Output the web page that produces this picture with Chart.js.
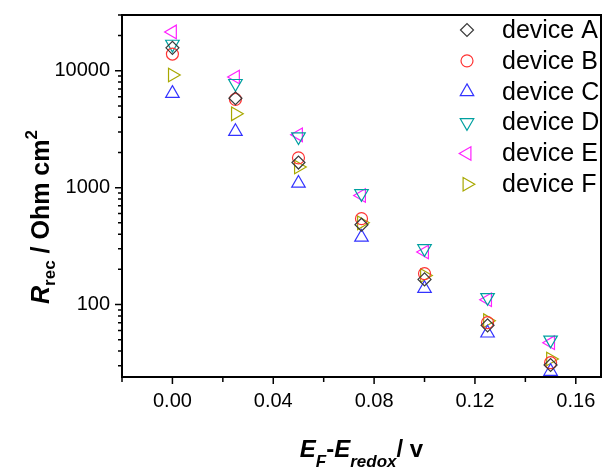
<!DOCTYPE html>
<html>
<head>
<meta charset="utf-8">
<script src="https://cdn.jsdelivr.net/npm/chart.js@4.4.1/dist/chart.umd.min.js"></script>
<style>
  body { margin: 0; background: #fff; }
  #wrap { width: 610px; height: 471px; }
</style>
</head>
<body>
<div id="wrap"><canvas id="myChart"></canvas></div>
<script>
// E_F - E_redox in V
var potentials = [0, 0.025, 0.05, 0.075, 0.1, 0.125, 0.15];
var deviceNames = ['device A', 'device B', 'device C', 'device D', 'device E', 'device F'];
// recombination resistance in Ohm cm2
var rDeviceA = [15700, 5820, 1640, 482, 164, 66.4, 30.4];
var rDeviceB = [13900, 5700, 1800, 543, 184, 70, 31.8];
var rDeviceC = [6400, 3020, 1090, 376, 137, 57, 26.8];
var rDeviceD = [16900, 7800, 2730, 890, 301, 115, 49.7];
var rDeviceE = [21500, 8840, 2830, 857, 282, 110, 47.2];
var rDeviceF = [9200, 4280, 1500, 500, 177, 72.8, 34.2];
var xTickValues = [-0.02, 0, 0.02, 0.04, 0.06, 0.08, 0.10, 0.12, 0.14, 0.16];
var xTickLabels = ['', '0.00', '', '0.04', '', '0.08', '', '0.12', '', '0.16'];
var yTickValues = [100, 1000, 10000];
var yTickLabels = ['100', '1000', '10000'];

var seriesValues = [rDeviceA, rDeviceB, rDeviceC, rDeviceD, rDeviceE, rDeviceF];
var markerColors = ['#3a3a3a', '#ff3333', '#3333ff', '#00a0a0', '#ff22ff', '#a8a800'];
var markerStyles = ['rectRot', 'circle', 'triangle', 'triangle', 'triangle', 'triangle'];
var markerRotations = [0, 0, 0, 180, -90, 90];
var markerRadii = [6.5, 6, 7.8, 7.8, 7.8, 7.8];

var FONT = '"Liberation Sans", Arial, sans-serif';

//frame round the plot area plus major / minor tick marks
var frameAndTicks = {
    id: 'frameAndTicks',
    beforeDatasetsDraw: function(chart) {
        var ctx = chart.ctx, a = chart.chartArea;
        var xs = chart.scales.x, ys = chart.scales.y;
        ctx.save();
        ctx.strokeStyle = '#000';
        ctx.lineWidth = 2;
        ctx.strokeRect(a.left, a.top, a.right - a.left, a.bottom - a.top);
        ctx.lineWidth = 1.5;
        ctx.beginPath();
        for (var i = 0; i < xTickValues.length; i++) {
            var px = xs.getPixelForValue(xTickValues[i]);
            var len = xTickLabels[i] ? 7 : 5;
            ctx.moveTo(px, a.bottom);
            ctx.lineTo(px, a.bottom + len);
        }
        for (var d = 10; d <= 10000; d *= 10) {
            for (var m = 1; m <= 9; m++) {
                var v = d * m;
                if (v < ys.min || v > ys.max) continue;
                var py = ys.getPixelForValue(v);
                var l = m === 1 ? 7 : 4;
                ctx.moveTo(a.left - l, py);
                ctx.lineTo(a.left, py);
            }
        }
        ctx.stroke();
        ctx.restore();
    }
};

function drawMarker(ctx, i, x, y) {
    ctx.strokeStyle = markerColors[i];
    ctx.fillStyle = 'rgba(0,0,0,0)';
    ctx.lineWidth = 1.2;
    Chart.helpers.drawPoint(ctx, {
        pointStyle: markerStyles[i],
        rotation: markerRotations[i],
        radius: markerRadii[i],
        borderWidth: 1.2
    }, x, y);
}

//legend inside the top right corner
var deviceLegend = {
    id: 'deviceLegend',
    afterDatasetsDraw: function(chart) {
        var ctx = chart.ctx, a = chart.chartArea;
        ctx.save();
        ctx.font = '25px ' + FONT;
        ctx.textBaseline = 'middle';
        ctx.textAlign = 'left';
        for (var i = 0; i < deviceNames.length; i++) {
            var y = a.top + 15 + i * 30.86;
            drawMarker(ctx, i, a.left + 345, y);
            ctx.fillStyle = '#000';
            ctx.fillText(deviceNames[i], a.left + 380, y + 1);
        }
        ctx.restore();
    }
};

//text made of pieces with sub/superscripts, centred on (cx, baseline)
function drawRich(ctx, parts, cx, baseline) {
    var total = 0;
    parts.forEach(function(p) {
        ctx.font = p.font;
        p.w = ctx.measureText(p.text).width;
        total += p.w;
    });
    var x = cx - total / 2;
    ctx.textAlign = 'left';
    ctx.textBaseline = 'alphabetic';
    parts.forEach(function(p) {
        ctx.font = p.font;
        ctx.fillText(p.text, x, baseline + (p.dy || 0));
        x += p.w;
    });
}

var axisTitles = {
    id: 'axisTitles',
    afterDraw: function(chart) {
        var ctx = chart.ctx, a = chart.chartArea;
        ctx.save();
        ctx.fillStyle = '#000';
        drawRich(ctx, [
            {text: 'E', font: 'italic bold 24px ' + FONT},
            {text: 'F', font: 'italic bold 17px ' + FONT, dy: 10},
            {text: '-', font: 'bold 24px ' + FONT},
            {text: 'E', font: 'italic bold 24px ' + FONT},
            {text: 'redox', font: 'italic bold 17px ' + FONT, dy: 10},
            {text: '/ v', font: 'bold 24px ' + FONT}
        ], (a.left + a.right) / 2, 457);

        ctx.translate(40, 217);
        ctx.rotate(-Math.PI / 2);
        drawRich(ctx, [
            {text: 'R', font: 'italic bold 25px ' + FONT},
            {text: 'rec', font: 'bold 17px ' + FONT, dy: 6},
            {text: ' / Ohm cm', font: 'bold 25px ' + FONT},
            {text: '2', font: 'bold 17px ' + FONT, dy: -12}
        ], 0, 9);
        ctx.restore();
    }
};

var datasets = deviceNames.map(function(name, i) {
    return {
        label: name,
        data: potentials.map(function(x, j) { return {x: x, y: seriesValues[i][j]}; }),
        pointStyle: markerStyles[i],
        pointRotation: markerRotations[i],
        pointRadius: markerRadii[i],
        pointHoverRadius: markerRadii[i],
        pointBorderColor: markerColors[i],
        pointBackgroundColor: 'rgba(0,0,0,0)',
        pointBorderWidth: 1.2,
        showLine: false
    };
});

var ctx = document.getElementById('myChart').getContext('2d');
var myChart = new Chart(ctx, {
    type: 'scatter',
    data: { datasets: datasets },
    options: {
        responsive: true,
        maintainAspectRatio: false,
        animation: false,
        layout: { padding: { top: 15, right: 4, left: 0, bottom: 0 } },
        plugins: { legend: { display: false }, tooltip: { enabled: false } },
        scales: {
            x: {
                type: 'linear',
                min: -0.02,
                max: 0.17,
                grid: { display: false, drawTicks: false },
                border: { display: false },
                afterBuildTicks: function(s) {
                    s.ticks = xTickValues.map(function(v) { return {value: v}; });
                },
                afterFit: function(s) {
                    s.height = 94;
                },
                ticks: {
                    autoSkip: false,
                    maxRotation: 0,
                    padding: 0,
                    color: '#000',
                    // tall line box pushes the labels down below the tick marks
                    font: { family: FONT, size: 20, lineHeight: 2.4 },
                    callback: function(v, i) { return xTickLabels[i]; }
                }
            },
            y: {
                type: 'logarithmic',
                min: 24,
                max: 30000,
                grid: { display: false, drawTicks: false },
                border: { display: false },
                afterBuildTicks: function(s) {
                    s.ticks = yTickValues.map(function(v) { return {value: v}; });
                },
                afterFit: function(s) {
                    s.width = 122;
                    s.paddingTop = 0;
                    s.paddingBottom = 0;
                },
                ticks: {
                    autoSkip: false,
                    padding: 12,
                    color: '#000',
                    font: { family: FONT, size: 20 },
                    callback: function(v, i) { return yTickLabels[i]; }
                }
            }
        }
    },
    plugins: [frameAndTicks, deviceLegend, axisTitles]
});
</script>
</body>
</html>
